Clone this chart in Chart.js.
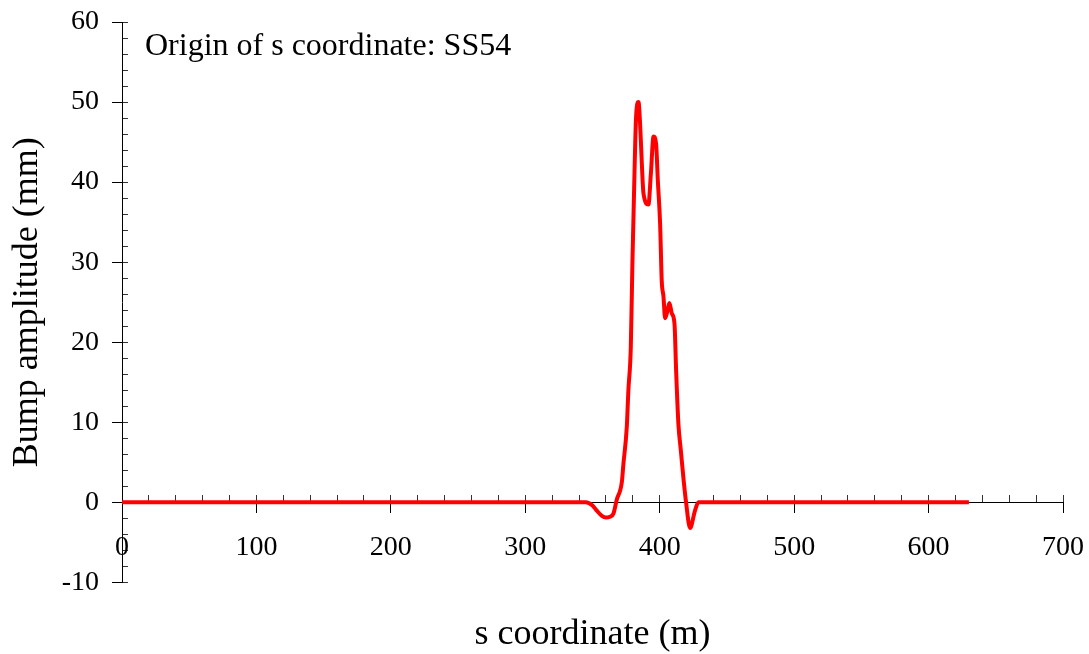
<!DOCTYPE html>
<html>
<head>
<meta charset="utf-8">
<script src="https://cdn.jsdelivr.net/npm/chart.js@4.4.0/dist/chart.umd.min.js"></script>
<style>
  html, body { margin: 0; padding: 0; background: #fff; }
  #wrap { width: 1089px; height: 654px; position: relative; }
</style>
</head>
<body>
<div id="wrap"><canvas id="bump-chart"></canvas></div>
<script>
// Orbit bump along the ring
const sValues = [0, 345, 350, 353, 357, 360, 363, 365.6, 368, 371.8, 373, 375.5, 376.7, 378.5, 379.7, 381, 382.4, 384.2, 385.4, 386.7, 387.9, 391.6, 393.4, 395.4, 397.3, 398.6, 400.3, 401.5, 402.8, 404, 405.3, 407.2, 409, 411, 412.2, 413.9, 415.7, 417.6, 419.6, 422.6, 426.3, 428.8, 630];
const bumpValues = [0, 0, -0.4, -1.0, -1.7, -1.9, -1.8, -1.4, 0.3, 2.5, 4.8, 9.4, 14, 19.4, 30, 39.4, 48.1, 50, 47.3, 42.3, 38.6, 37.2, 41, 45.7, 44.8, 40.2, 34.8, 27.7, 25.7, 23, 23.6, 24.9, 23.6, 22.3, 16.5, 9.8, 6.5, 3.1, 0, -3.2, -1, 0, 0];

const xTickValues = [0, 100, 200, 300, 400, 500, 600, 700];
const yTickValues = [-10, 0, 10, 20, 30, 40, 50, 60];

const serif = '"Liberation Serif", "Times New Roman", serif';

// note drawn in the top-left corner of the plot
const originNote = {
  id: 'originNote',
  afterDraw(chart) {
    const { ctx, chartArea } = chart;
    ctx.save();
    ctx.font = '32px ' + serif;
    ctx.fillStyle = '#000';
    ctx.textBaseline = 'middle';
    ctx.textAlign = 'left';
    ctx.fillText('Origin of s coordinate: SS54', chartArea.left + 23, chartArea.top + 25);
    ctx.restore();
  }
};

const ctx = document.getElementById('bump-chart').getContext('2d');
new Chart(ctx, {
  type: 'line',
  data: {
    datasets: [{
      data: sValues.map((s, i) => ({ x: s, y: bumpValues[i] })),
      borderColor: '#ff0000',
      borderWidth: 4,
      pointRadius: 0,
      cubicInterpolationMode: 'monotone',
      xAxisID: 'x',
      yAxisID: 'y'
    }]
  },
  options: {
    responsive: true,
    maintainAspectRatio: false,
    animation: false,
    layout: { padding: { top: 22, right: 26, bottom: 0, left: 0 } },
    plugins: {
      legend: { display: false },
      tooltip: { enabled: false },
      title: {
        display: true,
        position: 'bottom',
        fullSize: false,
        text: 's coordinate (m)',
        color: '#000',
        font: { family: serif, size: 36, weight: 'normal', lineHeight: 1.1 },
        padding: { top: 32, bottom: 0 }
      }
    },
    scales: {
      x: {
        type: 'linear',
        position: { y: 0 },
        min: 0,
        max: 700,
        afterBuildTicks: (scale) => { scale.ticks = xTickValues.map(v => ({ value: v })); },
        afterFit: (scale) => { scale.paddingLeft = 0; scale.paddingRight = 0; },
        border: { display: true, color: '#000', width: 1 },
        grid: { drawOnChartArea: false, color: '#000', tickLength: 10 },
        ticks: { color: '#000', padding: 18, maxRotation: 0, font: { family: serif, size: 28 } }
      },
      xMinor: {
        type: 'linear',
        axis: 'x',
        position: { y: 0 },
        min: 0,
        max: 700,
        border: { display: false },
        grid: { drawOnChartArea: false, color: '#333', tickLength: -7 },
        ticks: { display: false, stepSize: 20 }
      },
      y: {
        type: 'linear',
        position: 'left',
        min: -10,
        max: 60,
        afterBuildTicks: (scale) => { scale.ticks = yTickValues.map(v => ({ value: v })); },
        afterFit: (scale) => { scale.width = 122; scale.paddingTop = 0; scale.paddingBottom = 0; },
        border: { display: true, color: '#000', width: 1 },
        grid: { drawOnChartArea: false, color: '#000', tickLength: 10 },
        ticks: { color: '#000', padding: 13, font: { family: serif, size: 28 } },
        title: {
          display: true,
          text: 'Bump amplitude (mm)',
          color: '#000',
          font: { family: serif, size: 36 },
          padding: { top: 6, bottom: 0 }
        }
      },
      yMinor: {
        type: 'linear',
        axis: 'y',
        position: { x: 0 },
        min: -10,
        max: 60,
        border: { display: false },
        grid: { drawOnChartArea: false, color: '#333', tickLength: -6 },
        ticks: { display: false, stepSize: 2 }
      }
    }
  },
  plugins: [originNote]
});
</script>
</body>
</html>
